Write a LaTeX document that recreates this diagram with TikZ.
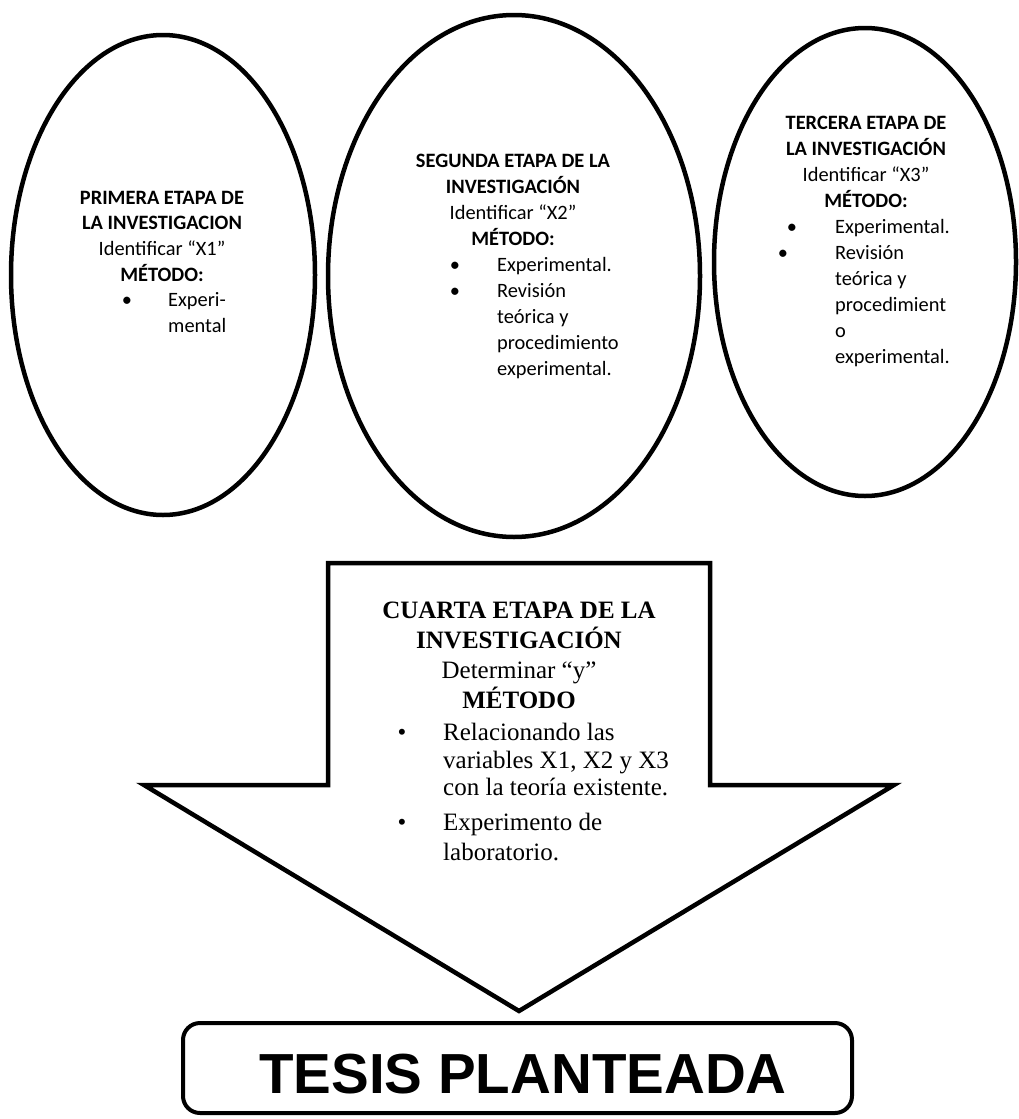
\documentclass[tikz,border=0pt]{standalone}
\usepackage{fontspec}
\setmainfont{Liberation Serif}
\newfontfamily\calfont{Carlito}
\newfontfamily\arialfont{Liberation Sans}
\usetikzlibrary{shapes.geometric}
\begin{document}
\begin{tikzpicture}[x=1pt,y=-1pt,
  oval/.style={ellipse, draw, line width=4.5pt, inner sep=0pt},
  eline/.style={anchor=base, inner sep=0pt, font=\calfont\fontsize{20.4}{24}\selectfont},
  eitem/.style={anchor=base west, inner sep=0pt, font=\calfont\fontsize{20.4}{24}\selectfont},
  aline/.style={anchor=base, inner sep=0pt, font=\fontsize{25}{30}\selectfont},
  aitem/.style={anchor=base west, inner sep=0pt, font=\fontsize{25}{30}\selectfont},
  shapeline/.style={line width=4.5pt, line join=miter},
]
\path[use as bounding box] (0,0) rectangle (1019,1119);

% ellipses
\node[oval, minimum width=304pt, minimum height=480pt] (e1) at (163,275) {};
\node[oval, minimum width=372pt, minimum height=522pt] (e2) at (514,276) {};
\node[oval, minimum width=302pt, minimum height=468pt] (e3) at (865,262) {};

% ellipse 1 text
\foreach \t [count=\i from 0] in {{\bfseries PRIMERA ETAPA DE},{\bfseries LA INVESTIGACION},{Identificar “X1”},{\bfseries MÉTODO:}}
  \node[eline] (eA\i) at (162,{204+25.7*\i}) {\t};
\node[eline] (eAb1) at (127,306.8) {•};
\node[eitem] (eAi1) at (168,306.8) {Experi-};
\node[eitem] (eAi2) at (168,332.5) {mental};

% ellipse 2 text
\foreach \t [count=\i from 0] in {{\bfseries SEGUNDA ETAPA DE LA},{\bfseries INVESTIGACIÓN},{Identificar “X2”},{\bfseries MÉTODO:}}
  \node[eline] (eB\i) at (513,{167+26*\i}) {\t};
\node[eline] (eBb1) at (455,271) {•};
\node[eline] (eBb2) at (455,297) {•};
\foreach \t [count=\i from 0] in {{Experimental.},{Revisión},{teórica y},{procedimiento},{experimental.}}
  \node[eitem] (eBi\i) at (497,{271+26*\i}) {\t};

% ellipse 3 text
\foreach \t [count=\i from 0] in {{\bfseries TERCERA ETAPA DE},{\bfseries LA INVESTIGACIÓN},{Identificar “X3”},{\bfseries MÉTODO:}}
  \node[eline] (eC\i) at (866,{129+26*\i}) {\t};
\node[eline] (eCb1) at (792,233) {•};
\node[eline] (eCb2) at (783,259) {•};
\foreach \t [count=\i from 0] in {{Experimental.},{Revisión},{teórica y},{procedimient},{o},{experimental.}}
  \node[eitem] (eCi\i) at (835,{233+26*\i}) {\t};

% big arrow
\coordinate (a1) at (328,563);
\coordinate (a2) at (710,563);
\coordinate (a3) at (710,785);
\coordinate (a4) at (894,785);
\coordinate (tip) at (519,1011);
\coordinate (a6) at (144,785);
\coordinate (a7) at (328,785);
\draw[shapeline] (a1) -- (a2) -- (a3) -- (a4) -- (tip) -- (a6) -- (a7) -- cycle;

\node[aline] (c1) at (519,618) {\bfseries CUARTA ETAPA DE LA};
\node[aline] (c2) at (519,648) {\bfseries INVESTIGACIÓN};
\node[aline] (c3) at (519,678) {Determinar “y”};
\node[aline] (c4) at (519,708) {\bfseries MÉTODO};
\node[aline] (cb1) at (402,740) {•};
\node[aitem] (ci1) at (443,740) {Relacionando las};
\node[aitem] (ci2) at (443,768) {variables X1, X2 y X3};
\node[aitem] (ci3) at (443,795) {con la teoría existente.};
\node[aline] (cb2) at (402,830) {•};
\node[aitem] (ci4) at (443,830) {Experimento de};
\node[aitem] (ci5) at (443,860) {laboratorio.};

% final box
\node[draw, line width=4pt, rounded corners=17pt, minimum width=669pt, minimum height=90pt, inner sep=0pt] (tesis) at (517.5,1068) {};
\node[anchor=base, inner sep=0pt, font=\arialfont\bfseries\fontsize{56.5}{60}\selectfont] (tesistext) at (523,1093) {TESIS PLANTEADA};
\end{tikzpicture}
\end{document}
